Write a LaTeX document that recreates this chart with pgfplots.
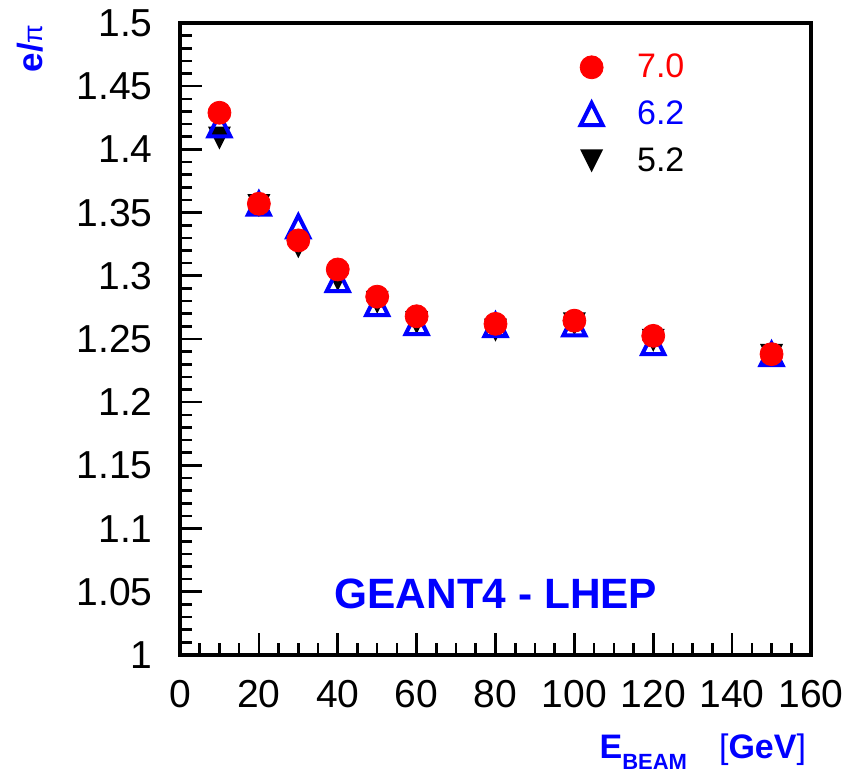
\documentclass[border=0pt]{standalone}
\usepackage{pgfplots}
\pgfplotsset{compat=1.18}
\usepackage{fontspec}
\setmainfont{Liberation Sans}
\pgfdeclareplotmark{uptri}{%
 \pgfpathmoveto{\pgfqpoint{0pt}{\pgfplotmarksize}}%
 \pgfpathlineto{\pgfqpoint{\pgfplotmarksize}{-\pgfplotmarksize}}%
 \pgfpathlineto{\pgfqpoint{-\pgfplotmarksize}{-\pgfplotmarksize}}%
 \pgfpathclose\pgfusepathqstroke}
\pgfdeclareplotmark{downtri*}{%
 \pgfpathmoveto{\pgfqpoint{0pt}{-\pgfplotmarksize}}%
 \pgfpathlineto{\pgfqpoint{\pgfplotmarksize}{\pgfplotmarksize}}%
 \pgfpathlineto{\pgfqpoint{-\pgfplotmarksize}{\pgfplotmarksize}}%
 \pgfpathclose\pgfusepathqfill}
\begin{document}
\begin{tikzpicture}
\useasboundingbox (-90pt,-59.5pt) rectangle (336pt,327.5pt);
\begin{axis}[
  at={(0,0)}, anchor=south west,
  width=315.5pt, height=316pt, scale only axis,
  xmin=0, xmax=160, ymin=1, ymax=1.5,
  xtick={0,20,40,60,80,100,120,140,160},
  ytick={1,1.05,1.1,1.15,1.2,1.25,1.3,1.35,1.4,1.45,1.5},
  yticklabels={1,1.05,1.1,1.15,1.2,1.25,1.3,1.35,1.4,1.45,1.5},
  minor x tick num=3, minor y tick num=4,
  tick align=inside, tick pos=left,
  major tick length=11pt, minor tick length=6pt,
  every tick/.style={black, line width=1.3pt},
  axis line style={line width=2pt},
  tick label style={font=\fontsize{19.5}{20}\selectfont},
  /pgf/number format/assume math mode=true,
  yticklabel style={inner sep=0pt, xshift=-13.5pt},
  xticklabel style={inner sep=0pt, yshift=-12.5pt},
  clip=false,
  reverse legend,
  legend cell align=left,
  legend style={draw=none, fill=none, at={(rel axis cs:0.624,0.958)}, anchor=north west,
    font=\fontsize{17}{17}\selectfont, row sep=10pt, column sep=17pt,
    nodes={inner sep=0pt}},
]
\addplot[only marks, mark=downtri*, mark size=5.75pt, black] coordinates {
 (10,1.409) (20,1.3556) (30,1.323) (40,1.297) (50,1.279) (60,1.263) (80,1.257) (100,1.262) (120,1.249) (150,1.237)};
\addlegendentry{\textcolor{black}{5.2}}
\addplot[only marks, mark=uptri, mark size=5.5pt, blue, mark options={line width=2pt, line join=miter}] coordinates {
 (10,1.419) (20,1.357) (30,1.339) (40,1.2965) (50,1.2775) (60,1.2625) (80,1.261) (100,1.2615) (120,1.2468) (150,1.238)};
\addlegendentry{\textcolor{blue}{6.2}}
\addplot[only marks, mark=*, mark size=5.75pt, red, mark options={fill=red, draw=red}] coordinates {
 (10,1.429) (20,1.357) (30,1.328) (40,1.305) (50,1.2835) (60,1.268) (80,1.262) (100,1.2645) (120,1.2525) (150,1.238)};
\addlegendentry{\textcolor{red}{7.0}}
\node[text=blue, font=\bfseries\fontsize{21.2}{22}\selectfont] at (axis cs:80.1,1.048) {GEANT4 - LHEP};
\node[anchor=base east, text=blue, inner sep=0pt] at ([xshift=-2.3pt, yshift=-52pt]rel axis cs:1,0)
  {\bfseries\fontsize{17}{17}\selectfont E\raisebox{-5.5pt}{\fontsize{11}{11}\selectfont BEAM}\hspace{16pt}{\mdseries[}GeV{\mdseries]}};
\node[rotate=90, anchor=east, text=blue, inner sep=0pt, font=\bfseries\fontsize{17.5}{17.5}\selectfont] at ([xshift=-75pt, yshift=-0.5pt]rel axis cs:0,1)
  {e/{\mdseries\fontsize{13.5}{13.5}\selectfont π}};
\end{axis}
\end{tikzpicture}
\end{document}
